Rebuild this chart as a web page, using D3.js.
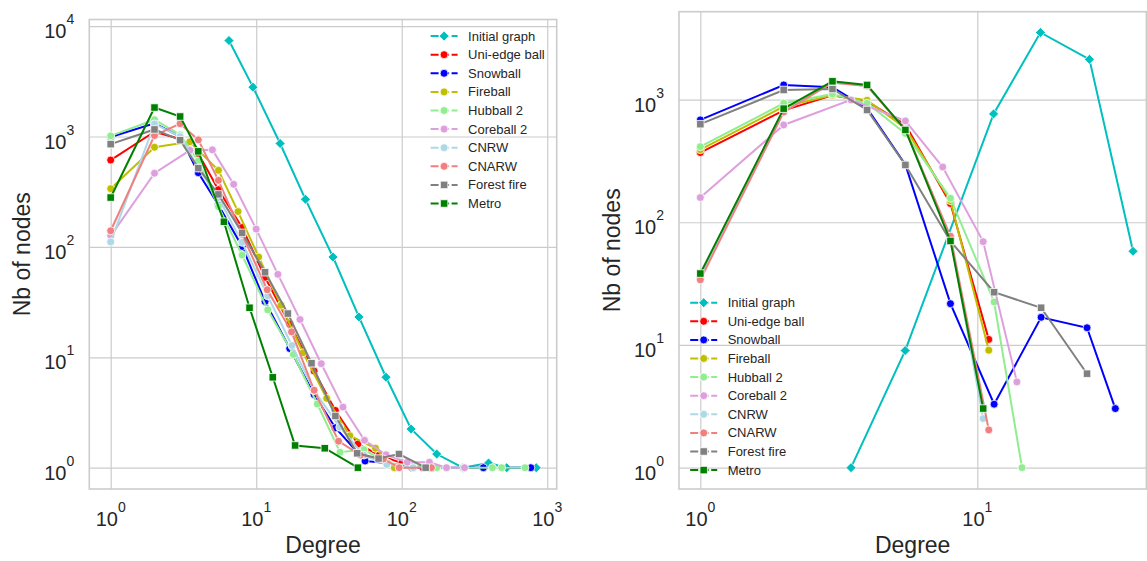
<!DOCTYPE html>
<html>
<head>
<meta charset="utf-8">
<script src="https://cdn.jsdelivr.net/npm/d3@7"></script>
<style>
body { margin: 0; background: #fff; }
svg { font-family: "Liberation Sans", Arial, sans-serif; }
</style>
</head>
<body>
<svg id="chart" width="1147" height="561"></svg>
<script>
// Series (same order in both panels)
const seriesNames = ["Initial graph", "Uni-edge ball", "Snowball", "Fireball", "Hubball 2",
                     "Coreball 2", "CNRW", "CNARW", "Forest fire", "Metro"];
const seriesColors = ["#00bfbf", "#ff0000", "#0000ff", "#bfbf00", "#90ee90",
                      "#dda0dd", "#add8e6", "#f08080", "#808080", "#008000"];
const seriesMarkers = ["diamond", "circle", "circle", "circle", "circle",
                       "circle", "circle", "circle", "square", "square"];

// Left panel: degree distribution (degree -> nb of nodes)
const leftDegrees = [
  [6.5, 9.5, 14.6, 21.8, 33.7, 50.8, 78, 116, 174, 263, 395, 527, 840],
  [1, 2, 3, 4, 5.5, 8, 11.5, 17, 25, 35, 50, 70, 100, 140],
  [1, 2, 3, 4, 5.5, 8, 11.5, 17, 25, 35, 56, 80, 118, 160, 364, 771],
  [1, 2, 3.5, 5.5, 7.5, 10.4, 14.8, 21, 30.5, 44, 66, 89],
  [1, 2, 3, 4, 5.5, 8, 12, 18, 26.3, 37.7, 55, 80, 120, 174, 263, 420, 486, 703],
  [1, 2, 3.5, 5, 7, 10, 14.1, 20, 28, 39.5, 55.5, 78, 109, 155, 203, 270],
  [1, 2, 3, 4, 5.5, 8, 12, 17.6, 25, 37.5, 55, 79, 120],
  [1, 2, 3, 4, 5.5, 8, 11.9, 17.5, 25, 36.8, 52, 75, 96, 160],
  [1, 2, 3, 4, 5.5, 8, 11.5, 16.5, 24, 35, 49.4, 69.3, 95.8, 146],
  [1, 2, 3, 4, 6, 9, 13, 18.5, 29.6, 50]
];
const leftCounts = [
  [7400, 2800, 865, 270, 81, 23.2, 6.6, 2.24, 1.33, 1, 1.1, 1, 1],
  [612, 1105, 950, 700, 330, 150, 53, 20, 7.5, 3.3, 1.64, 1.3, 1.1, 1],
  [990, 1320, 1000, 470, 240, 101, 32, 12, 4.6, 2.3, 1.15, 1.1, 1, 1, 1, 1],
  [337, 800, 897, 494, 209, 81, 29.6, 11, 4.25, 1.95, 1.5, 1],
  [1013, 1420, 1036, 600, 232, 84.5, 26.9, 10.6, 3.78, 1.38, 1.46, 1.1, 1.05, 1, 1, 1, 1, 1],
  [126, 465, 750, 757, 369, 145, 56.4, 22, 8.75, 3.54, 1.77, 1.31, 1.12, 1.12, 1, 1],
  [111, 1300, 1000, 520, 280, 110, 36, 12.8, 5, 2.33, 1.3, 1.07, 1],
  [140, 1020, 1306, 933, 401, 130, 40.9, 17, 5.03, 1.74, 1.3, 1.2, 1, 1],
  [853, 1159, 926, 517, 299, 134, 59, 24.9, 8.83, 2.94, 1.35, 1.21, 1.33, 1],
  [280, 1830, 1518, 734, 169, 28.1, 6.59, 1.59, 1.5, 1]
];

// Right panel
const rightDegrees = [
  [3.5, 5.49, 11.45, 16.9, 25.4, 36.5],
  [1, 2, 3, 4, 5.5, 8, 11],
  [1, 2, 3, 4, 5.5, 8, 11.5, 17, 24.9, 31.5],
  [1, 2, 3, 4, 5.5, 8, 11],
  [1, 2, 3, 4, 5.5, 8, 11.5, 14.5],
  [1, 2, 3.5, 5.5, 7.5, 10.5, 13.9],
  [1, 2, 3, 4, 5.5, 8, 10.5],
  [1, 2, 3, 4, 5.5, 8, 11],
  [1, 2, 3, 4, 5.5, 8, 11.5, 17, 24.9],
  [1, 2, 3, 4, 5.5, 8, 10.5]
];
const rightCounts = [
  [1, 9, 764, 3520, 2126, 58],
  [370, 817, 1084, 966, 624, 142, 11.1],
  [682, 1315, 1260, 850, 294, 21.7, 3.29, 16.8, 13.8, 3.03],
  [390, 877, 1084, 986, 584, 150, 9.06],
  [413, 933, 1110, 933, 530, 157, 22.4, 1],
  [159, 621, 993, 670, 282, 69.5, 5.0],
  [36, 800, 1370, 1290, 570, 75, 2.51],
  [34, 790, 1380, 1291, 565, 77, 2.03],
  [630, 1197, 1220, 822, 293, 70, 26.9, 20.1, 5.83],
  [38.2, 843, 1409, 1315, 565, 70.4, 3.03]
];

// Tick values
const leftXTicks = [1, 10, 100, 1000];
const leftYTicks = [1, 10, 100, 1000, 10000];
const rightXTicks = [1, 10];
const rightYTicks = [1, 10, 100, 1000];

const svg = d3.select("#chart");
const textColor = "#262626";
const gridColor = "#cccccc";

function drawPanel(p) {
  const g = svg.append("g");
  const x = d3.scaleLog().domain(p.xDomain).range([p.left, p.right]);
  const y = d3.scaleLog().domain(p.yDomain).range([p.bottom, p.top]);

  // grid
  g.append("g")
    .attr("transform", `translate(0,${p.bottom})`)
    .call(d3.axisBottom(x).tickValues(p.xTicks).tickSize(-(p.bottom - p.top)).tickFormat(""))
    .call(a => a.select(".domain").remove())
    .call(a => a.selectAll("line").attr("stroke", gridColor).attr("stroke-width", 1.2));
  g.append("g")
    .attr("transform", `translate(${p.left},0)`)
    .call(d3.axisLeft(y).tickValues(p.yTicks).tickSize(-(p.right - p.left)).tickFormat(""))
    .call(a => a.select(".domain").remove())
    .call(a => a.selectAll("line").attr("stroke", gridColor).attr("stroke-width", 1.2));

  // frame
  g.append("rect")
    .attr("x", p.left).attr("y", p.top)
    .attr("width", p.right - p.left).attr("height", p.bottom - p.top)
    .attr("fill", "none").attr("stroke", gridColor).attr("stroke-width", 1.6);

  // tick labels 10^k
  const supLabel = (sel, v) => {
    sel.append("tspan").text("10");
    sel.append("tspan").attr("font-size", 14).attr("dy", -14).text(Math.round(Math.log10(v)));
  };
  p.xTicks.forEach(v => {
    const t = g.append("text").attr("x", x(v)).attr("y", p.bottom + 37)
      .attr("text-anchor", "middle").attr("font-size", 20).attr("fill", textColor);
    supLabel(t, v);
  });
  p.yTicks.forEach(v => {
    const t = g.append("text").attr("x", p.left - 15).attr("y", y(v) + 12)
      .attr("text-anchor", "end").attr("font-size", 20).attr("fill", textColor);
    supLabel(t, v);
  });

  // axis labels
  g.append("text")
    .attr("x", (p.left + p.right) / 2).attr("y", 553)
    .attr("text-anchor", "middle").attr("font-size", 23).attr("fill", textColor)
    .text("Degree");
  g.append("text")
    .attr("transform", `translate(${p.yLabelX},${(p.top + p.bottom) / 2}) rotate(-90)`)
    .attr("text-anchor", "middle").attr("font-size", 23).attr("fill", textColor)
    .text("Nb of nodes");

  const plot = g.append("g");
  const line = d3.line().x(d => x(d[0])).y(d => y(d[1]));

  seriesNames.forEach((name, i) => {
    const pts = p.degrees[i].map((d, j) => [d, p.counts[i][j]]);
    plot.append("path")
      .datum(pts)
      .attr("d", line)
      .attr("fill", "none")
      .attr("stroke", seriesColors[i])
      .attr("stroke-width", 2);
    plot.selectAll(null)
      .data(pts)
      .join("path")
      .attr("transform", d => `translate(${x(d[0])},${y(d[1])})`)
      .attr("d", markerPath(seriesMarkers[i]))
      .attr("fill", seriesColors[i])
      .attr("stroke", "#fff")
      .attr("stroke-width", 0.8);
  });

  // legend
  const lg = g.append("g");
  seriesNames.forEach((name, i) => {
    const ly = p.legendY + i * 18.6;
    lg.append("line")
      .attr("x1", p.legendX).attr("x2", p.legendX + 27)
      .attr("y1", ly).attr("y2", ly)
      .attr("stroke", seriesColors[i]).attr("stroke-width", 2)
      .attr("stroke-dasharray", "8,2.5");
    lg.append("path")
      .attr("transform", `translate(${p.legendX + 13.5},${ly})`)
      .attr("d", markerPath(seriesMarkers[i]))
      .attr("fill", seriesColors[i])
      .attr("stroke", "#fff").attr("stroke-width", 0.8);
    lg.append("text")
      .attr("x", p.legendX + 37.5).attr("y", ly + 4.5)
      .attr("font-size", 13).attr("fill", textColor)
      .text(name);
  });
}

function markerPath(kind) {
  if (kind === "circle") return d3.symbol(d3.symbolCircle, 50)();
  if (kind === "square") return d3.symbol(d3.symbolSquare, 56)();
  // diamond: square rotated 45 degrees
  const h = 5;
  return `M0,${-h}L${h},0L0,${h}L${-h},0Z`;
}

drawPanel({
  left: 89.3, right: 556.7, top: 19.5, bottom: 489,
  xDomain: [Math.pow(10, -0.147), Math.pow(10, 3.065)],
  yDomain: [Math.pow(10, -0.193), Math.pow(10, 4.06)],
  xTicks: leftXTicks, yTicks: leftYTicks,
  degrees: leftDegrees, counts: leftCounts,
  legendX: 430.6, legendY: 36.1, yLabelX: 30
});

drawPanel({
  left: 679, right: 1146.4, top: 11.7, bottom: 489,
  xDomain: [Math.pow(10, -0.077), Math.pow(10, 1.6105)],
  yDomain: [Math.pow(10, -0.174), Math.pow(10, 3.716)],
  xTicks: rightXTicks, yTicks: rightYTicks,
  degrees: rightDegrees, counts: rightCounts,
  legendX: 690.2, legendY: 302.7, yLabelX: 620
});
</script>
</body>
</html>
